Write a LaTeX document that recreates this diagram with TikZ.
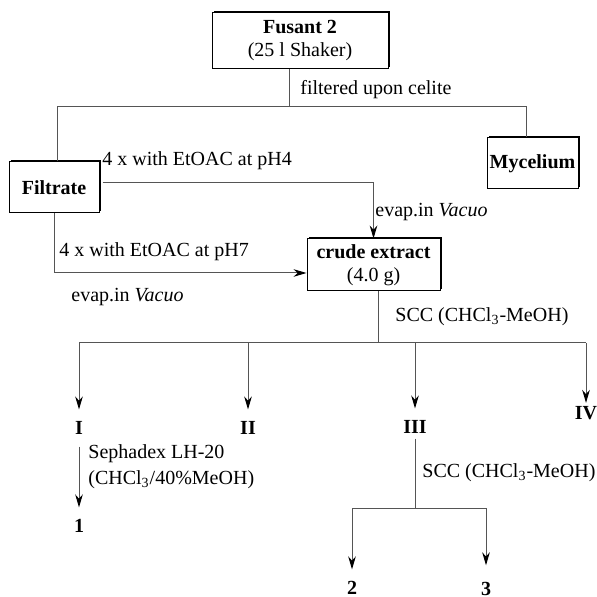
\documentclass[tikz,border=0pt]{standalone}
\usepackage{fontspec}
\setmainfont{Liberation Serif}
\usepackage{tikz}
\usetikzlibrary{arrows.meta, positioning, calc, shadows}
\definecolor{lgry}{RGB}{85,85,85}
\tikzset{
  % Boxed stage node, shadow on top and right
  BX/.style={rectangle,draw=black,fill=white,line width=0.5pt,
             minimum width=#1,minimum height=26pt,align=center,
             inner sep=1pt,font=\fontsize{10}{11.5}\selectfont,
             drop shadow={shadow xshift=0.9pt,shadow yshift=0.9pt,
                          fill=black,opacity=1}},
  BX/.default=45pt,
  % Plain label text
  LB/.style={anchor=west,inner sep=0pt,align=left,
             font=\fontsize{10}{13}\selectfont},
  % Bold fraction / compound number
  FR/.style={font=\bfseries,inner sep=0pt,outer ysep=6pt},
  % Lines and arrows
  Ln/.style ={line width=0.5pt,color=lgry},
  Arr/.style={-{Stealth[length=6.5pt,width=3.8pt,color=black]},
              line width=0.5pt,color=lgry},
}

\begin{document}
\begin{tikzpicture}[x=0.5pt,y=-0.5pt]
\useasboundingbox (0,0) rectangle (596,597);
% ── Culture and filtration ───────────────
\node[BX=88pt,minimum height=28pt] (fus) at (300,41)
{\textbf{Fusant 2}\\(25 l Shaker)};
\node[BX=45pt,minimum height=25.5pt] (filt) at (54,187.5) {\textbf{Filtrate}};
\node[BX=45.5pt,minimum height=25.5pt] (myc) at (532.5,163.5) {\textbf{Mycelium}};
\coordinate (split) at (289,107);
\coordinate (spL) at (57,107);
\coordinate (spR) at (526,107);
\draw[Ln] (fus.south -| split) -- (split);
\draw[Ln] (filt.north -| spL) -- (spL) -- (spR) -- (myc.north -| spR);
\node[LB] (celite) at (300,90) {filtered upon celite};
% ── Extraction ───────────────────────────
\node[BX=66.5pt] (crude) at (373.5,265) {\textbf{crude extract}\\(4.0 g)};
\draw[Arr] ([xshift=1.5pt,yshift=2.25pt]filt.east) -| (crude.north);
\draw[Arr] (filt.south) |- ([yshift=-4pt]crude.west);
\node[LB] (ph4)   at (102,161) {4 x with EtOAC at pH4};
\node[LB] (evap1) at (375,212) {evap.in \textit{Vacuo}};
\node[LB] (ph7)   at (59,252)  {4 x with EtOAC at pH7};
\node[LB] (evap2) at (71,297)  {evap.in \textit{Vacuo}};
% ── Column chromatography ────────────────
\coordinate (bar) at (378,343);
\node[FR] (f1) at (79,428)  {I};
\node[FR] (f2) at (248,428) {II};
\node[FR] (f3) at (415,427) {III};
\node[FR,outer ysep=1.7pt] (f4) at (586,413) {IV};
\draw[Ln] (crude.south -| bar) -- (bar);
\draw[Ln] (f1 |- bar) -- (f4 |- bar);
\foreach \f in {f1,f2,f3,f4}
  \draw[Arr] (\f |- bar) -- (\f.north);
\node[LB] (scc1) at (395,317) {SCC (CHCl\textsubscript{3}-MeOH)};
% ── Sephadex of I ────────────────────────
\node[FR] (c1) at (79,526) {1};
\draw[Arr] (f1.south) -- (c1.north);
\node[LB] (seph) at (88,467) {Sephadex LH-20\\(CHCl\textsubscript{3}/40\%MeOH)};
% ── SCC of III ───────────────────────────
\coordinate (sub) at (417,508);
\node[FR] (c2) at (352,588) {2};
\node[FR,outer ysep=8.5pt] (c3) at (486,589) {3};
\draw[Ln] ([yshift=3.5pt]f3.south) -- (f3.south |- sub);
\draw[Ln] (c2 |- sub) -- (c3 |- sub);
\draw[Arr] (c2 |- sub) -- (c2.north);
\draw[Arr] (c3 |- sub) -- (c3.north);
\node[LB] (scc2) at (422,473) {SCC (CHCl\textsubscript{3}-MeOH)};
\end{tikzpicture}
\end{document}
